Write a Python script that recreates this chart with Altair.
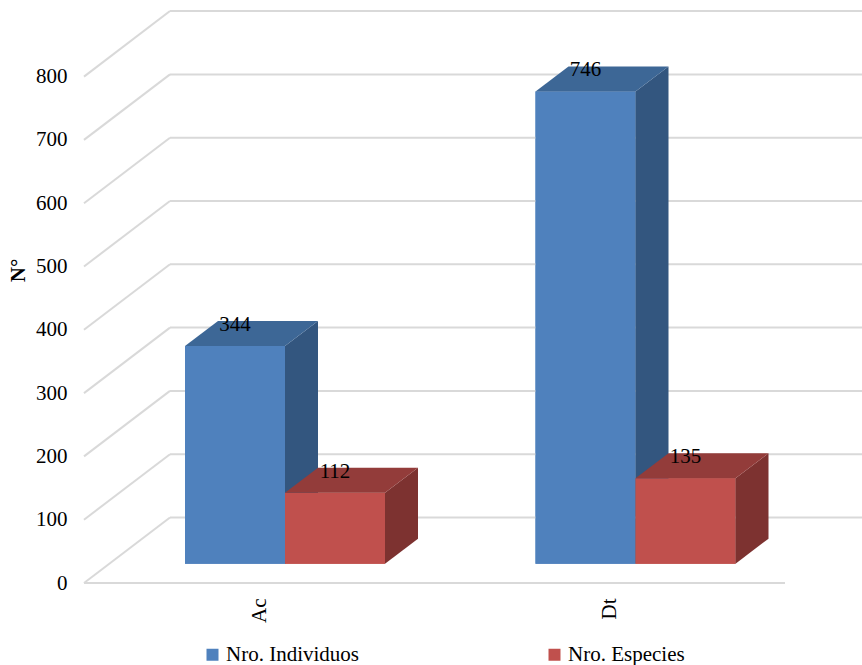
import json
import altair as alt
import pandas as pd

# ---------------- data ----------------
categories = ["Ac", "Dt"]
series_names = ["Nro. Individuos", "Nro. Especies"]
individuos = [344, 746]
especies = [112, 135]
y_ticks = [0, 100, 200, 300, 400, 500, 600, 700, 800]

# ---------------- style ----------------
FRONT = ["#4F81BD", "#C0504D"]
TOP = ["#3D6796", "#933C3A"]
SIDE = ["#33567F", "#7D3230"]
GRID = "#D9D9D9"
FONT = "Liberation Serif"

PX_X = 350.5                      # pixels per category
BAR_W = 100 / PX_X                # bar width (category units)
GAP_HALF = 0.75 * BAR_W           # half gap (gap width 150%)
BAR_DX, BAR_DY = 26 / PX_X, 30.5  # shift of bar front plane
DEPTH_DX, DEPTH_DY = 33 / PX_X, 39.5  # bar depth
WALL_DX, WALL_DY = 86 / PX_X, 103.5   # back wall shift
X_MAX = 778 / PX_X
Y_MAX = 921

# ---------------- geometry from data ----------------
values = [individuos, especies]
front_rows, side_rows, top_rows, label_rows = [], [], [], []
for i, cat in enumerate(categories):
    for s, name in enumerate(series_names):
        v = values[s][i]
        bid = f"{cat}-{s}"
        x0 = i + GAP_HALF + s * BAR_W + BAR_DX
        x1 = x0 + BAR_W
        yb = BAR_DY
        yt = v + BAR_DY
        front_rows.append(dict(series=name, fill=FRONT[s], s=s, x0=x0, x1=x1, yb=yb, yt=yt))
        side_rows += [
            dict(id=bid, fill=SIDE[s], s=s, x=x1, y=yb, y2=yt),
            dict(id=bid, fill=SIDE[s], s=s, x=x1 + DEPTH_DX, y=yb + DEPTH_DY, y2=yt + DEPTH_DY),
        ]
        top_rows += [
            dict(id=bid, fill=TOP[s], s=s, y=yt, x=x0, x2=x1),
            dict(id=bid, fill=TOP[s], s=s, y=yt + DEPTH_DY, x=x0 + DEPTH_DX, x2=x1 + DEPTH_DX),
        ]
        label_rows.append(dict(xc=(x0 + x1) / 2, yt=yt, label=str(v), s=s))

grid_rows = [dict(x=0, x2=len(categories), y=0, y2=0)]
for t in y_ticks:
    grid_rows.append(dict(x=0, x2=WALL_DX, y=t, y2=t + WALL_DY))
    grid_rows.append(dict(x=WALL_DX, x2=X_MAX, y=t + WALL_DY, y2=t + WALL_DY))

front_df = pd.DataFrame(front_rows)
side_df = pd.DataFrame(side_rows)
top_df = pd.DataFrame(top_rows)
label_df = pd.DataFrame(label_rows)
grid_df = pd.DataFrame(grid_rows)

# ---------------- scales / axes ----------------
xs = alt.Scale(domain=[0, X_MAX], nice=False, zero=False)
ys = alt.Scale(domain=[0, Y_MAX], nice=False, zero=False)

xaxis = alt.Axis(
    values=[i + 0.5 for i in range(len(categories))],
    labelExpr=f"{json.dumps(categories)}[floor(datum.value)]",
    labelAngle=270, labelFont=FONT, labelFontSize=21, labelColor="black",
    labelPadding=15, grid=False, domain=False, ticks=False, title=None,
    labelFlush=False, labelOverlap=False,
)
yaxis = alt.Axis(
    values=y_ticks, grid=False, domain=False, ticks=False,
    labelFont=FONT, labelFontSize=21, labelColor="black", labelPadding=17,
    labelFlush=False, labelOverlap=False,
    title="N°", titleFont=FONT, titleFontSize=21, titleFontWeight="bold",
    titleColor="black", titleAngle=270, titleX=-66, titleY=270,
    titleAlign="center", titleBaseline="middle",
)


def X(f):
    return alt.X(f"{f}:Q", scale=xs, axis=xaxis)


def Y(f):
    return alt.Y(f"{f}:Q", scale=ys, axis=yaxis)


# legend-carrying layer (hidden under the real faces)
legend_layer = alt.Chart(front_df).mark_rect().encode(
    x=X("x0"), x2="x1:Q", y=Y("yb"), y2="yt:Q",
    color=alt.Color(
        "series:N",
        scale=alt.Scale(domain=series_names, range=FRONT),
        legend=alt.Legend(
            title=None, orient="none", legendX=118, legendY=644,
            direction="horizontal", symbolType="square", symbolSize=144,
            symbolStrokeWidth=0, labelFont=FONT, labelFontSize=21,
            labelColor="black", labelOffset=3, columnPadding=185,
            labelLimit=400, padding=0,
        ),
    ),
)

grid = alt.Chart(grid_df).mark_rule(color=GRID, strokeWidth=2).encode(
    x=X("x"), x2="x2:Q", y=Y("y"), y2="y2:Q"
)

layers = [legend_layer, grid]
for s in range(len(series_names)):
    front = alt.Chart(front_df[front_df.s == s]).mark_rect().encode(
        x=X("x0"), x2="x1:Q", y=Y("yb"), y2="yt:Q",
        color=alt.Color("fill:N", scale=None),
    )
    side = alt.Chart(side_df[side_df.s == s]).mark_area(orient="vertical").encode(
        x=X("x"), y=Y("y"), y2="y2:Q", detail="id:N",
        color=alt.Color("fill:N", scale=None),
    )
    top = alt.Chart(top_df[top_df.s == s]).mark_area(orient="horizontal").encode(
        y=Y("y"), x=X("x"), x2="x2:Q", detail="id:N",
        color=alt.Color("fill:N", scale=None),
    )
    layers += [front, side, top]

labels = alt.Chart(label_df).mark_text(
    font=FONT, fontSize=21, baseline="alphabetic", dy=-15, color="black"
).encode(x=X("xc"), y=Y("yt"), text="label:N")
layers.append(labels)

chart = (
    alt.layer(*layers)
    .resolve_scale(color="independent")
    .properties(
        width=778, height=583,
        padding={"left": 84, "top": 0, "right": 0, "bottom": 82},
        autosize=alt.AutoSizeParams(type="none"),
        background="white",
    )
    .configure(
        font=FONT,
        view=alt.ViewConfig(stroke=None),
        legend=alt.LegendConfig(labelFont=FONT, labelFontSize=21, labelColor="black"),
        style={"guide-label": {"font": FONT}},
    )
)

chart.save("out.html", embed_options={"renderer": "svg", "actions": False})
